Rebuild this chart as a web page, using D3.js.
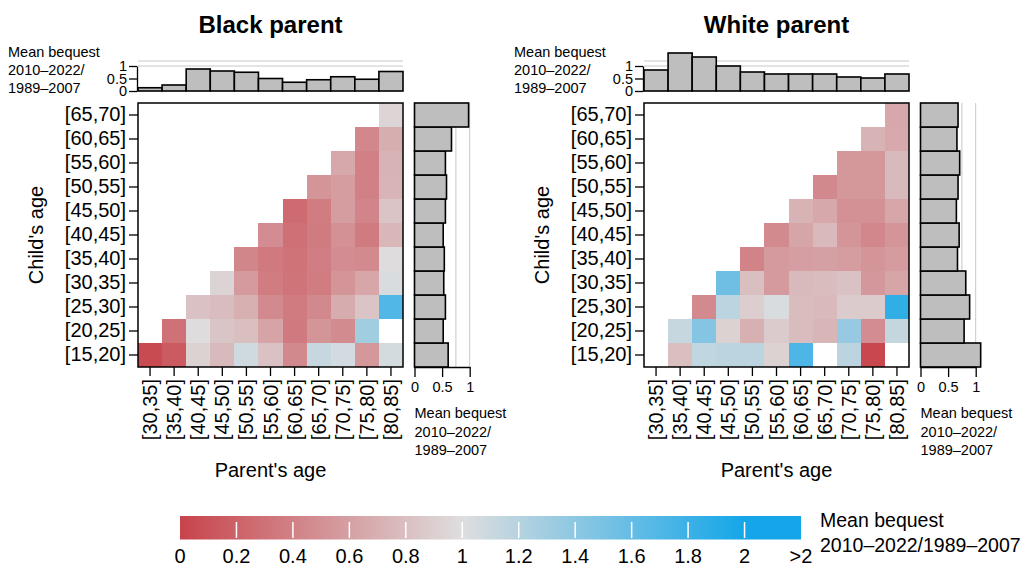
<!DOCTYPE html>
<html>
<head>
<meta charset="utf-8">
<script src="https://cdn.jsdelivr.net/npm/d3@7"></script>
<style>
  html, body { margin: 0; padding: 0; background: #fff; }
  svg { display: block; font-family: "Liberation Sans", Arial, Helvetica, sans-serif; }
</style>
</head>
<body>
<svg id="chart" width="1025" height="565"></svg>
<script>
// Age bins
const parentAgeBins = ["[30,35]","[35,40]","[40,45]","[45,50]","[50,55]","[55,60]","[60,65]","[65,70]","[70,75]","[75,80]","[80,85]"];
const childAgeBins  = ["[15,20]","[20,25]","[25,30]","[30,35]","[35,40]","[40,45]","[45,50]","[50,55]","[55,60]","[60,65]","[65,70]"];

// Ratio of mean bequest 2010–2022 / 1989–2007, rows = child age bin (youngest first), cols = parent age bin
const blackGrid = [
  [0.05, 0.15, 0.92, 0.77, 1.08, 0.82, 0.45, 1.12, 1.06, 0.54, 1.05],
  [null, 0.30, 0.99, 0.84, 0.80, 0.62, 0.35, 0.53, 0.47, 1.30, null],
  [null, null, 0.82, 0.78, 0.70, 0.46, 0.36, 0.45, 0.68, 0.83, 1.70],
  [null, null, null, 0.93, 0.56, 0.37, 0.32, 0.37, 0.53, 0.64, 1.03],
  [null, null, null, null, 0.43, 0.35, 0.31, 0.38, 0.48, 0.46, 0.99],
  [null, null, null, null, null, 0.48, 0.29, 0.36, 0.50, 0.36, 0.75],
  [null, null, null, null, null, null, 0.26, 0.37, 0.58, 0.42, 0.83],
  [null, null, null, null, null, null, null, 0.53, 0.58, 0.40, 0.73],
  [null, null, null, null, null, null, null, null, 0.65, 0.40, 0.72],
  [null, null, null, null, null, null, null, null, null, 0.44, 0.69],
  [null, null, null, null, null, null, null, null, null, null, 0.94]
];
const whiteGrid = [
  [null, 0.80, 1.15, 1.17, 1.17, 0.92, 1.72, null, 1.17, 0.03, null],
  [null, 1.12, 1.45, 0.92, 0.70, 0.88, 0.78, 0.74, 1.35, 0.48, 1.13],
  [null, null, 0.46, 1.18, 0.89, 1.03, 0.78, 0.76, 0.88, 0.88, 1.85],
  [null, null, null, 1.55, 0.80, 0.56, 0.77, 0.78, 0.82, 0.55, 0.63],
  [null, null, null, null, 0.41, 0.56, 0.59, 0.60, 0.58, 0.53, 0.57],
  [null, null, null, null, null, 0.46, 0.63, 0.76, 0.53, 0.44, 0.53],
  [null, null, null, null, null, null, 0.72, 0.65, 0.50, 0.50, 0.64],
  [null, null, null, null, null, null, null, 0.45, 0.54, 0.54, 0.77],
  [null, null, null, null, null, null, null, null, 0.54, 0.54, 0.77],
  [null, null, null, null, null, null, null, null, null, 0.72, 0.66],
  [null, null, null, null, null, null, null, null, null, null, 0.65]
];

// Marginal means by parent age (top) and by child age (side)
const blackParentMeans = [0.13, 0.24, 0.88, 0.80, 0.75, 0.50, 0.35, 0.45, 0.57, 0.47, 0.78];
const whiteParentMeans = [0.84, 1.52, 1.36, 1.00, 0.76, 0.68, 0.68, 0.68, 0.56, 0.52, 0.68];
const blackChildMeans  = [0.61, 0.52, 0.56, 0.53, 0.54, 0.52, 0.56, 0.58, 0.56, 0.67, 0.98];
const whiteChildMeans  = [1.09, 0.79, 0.89, 0.82, 0.67, 0.70, 0.65, 0.68, 0.71, 0.66, 0.68];

// Reference lines on the marginal bar charts
const topRefLines  = [1, 1.2];
const sideRefLines = [0.75, 1];
const marginTicks  = [0, 0.5, 1];

// Colour key
const legendTicks  = [0, 0.2, 0.4, 0.6, 0.8, 1, 1.2, 1.4, 1.6, 1.8, 2];
const legendLabels = ["0","0.2","0.4","0.6","0.8","1","1.2","1.4","1.6","1.8","2"];
const legendMax = 2.2;
const legendMaxLabel = ">2";
const axisNote = ["Mean bequest", "2010\u20132022/", "1989\u20132007"];
const legendTitle = ["Mean bequest", "2010\u20132022/1989\u20132007"];

const color = d3.scaleLinear()
  .domain([0, 1, 2])
  .range(["#c8434b", "#dedede", "#14a6e9"])
  .interpolate(d3.interpolateRgb)
  .clamp(true);

const svg = d3.select("#chart");

const panels = [
  { title: "Black parent", grid: blackGrid, top: blackParentMeans, side: blackChildMeans, x0: 138 },
  { title: "White parent", grid: whiteGrid, top: whiteParentMeans, side: whiteChildMeans, x0: 644 }
];

const heatW = 265, heatH = 264, heatY0 = 103;
const barFill = "#bebebe", refColor = "#c8c8c8";
const bigFont = 20, smallFont = 14.5;

panels.forEach(p => {
  const g = svg.append("g");
  const x = d3.scaleBand().domain(parentAgeBins).range([p.x0, p.x0 + heatW]);
  const y = d3.scaleBand().domain(childAgeBins).range([heatY0 + heatH, heatY0]);

  // Title
  g.append("text")
    .attr("x", p.x0 + heatW / 2).attr("y", 33)
    .attr("text-anchor", "middle")
    .attr("font-size", 24).attr("font-weight", "bold")
    .text(p.title);

  // Heatmap cells
  const cells = [];
  p.grid.forEach((row, ri) => row.forEach((v, ci) => {
    if (v !== null) cells.push({ child: childAgeBins[ri], parent: parentAgeBins[ci], v });
  }));
  g.append("g").selectAll("rect").data(cells).join("rect")
    .attr("x", d => x(d.parent))
    .attr("y", d => y(d.child))
    .attr("width", x.bandwidth() + 0.3)
    .attr("height", y.bandwidth() + 0.3)
    .attr("fill", d => color(d.v))
    .attr("shape-rendering", "crispEdges");

  g.append("rect")
    .attr("x", p.x0).attr("y", heatY0).attr("width", heatW).attr("height", heatH)
    .attr("fill", "none").attr("stroke", "#000").attr("stroke-width", 1.5);

  // Heatmap axes
  const yAxis = g.append("g")
    .attr("transform", `translate(${p.x0},0)`)
    .call(d3.axisLeft(y).tickSize(9).tickPadding(3));
  yAxis.select(".domain").remove();
  yAxis.selectAll("line").attr("stroke-width", 1.3);
  yAxis.selectAll("text").attr("font-size", bigFont).attr("fill", "#000")
    .attr("font-family", "Liberation Sans, Arial, sans-serif");

  const xAxis = g.append("g")
    .attr("transform", `translate(0,${heatY0 + heatH})`)
    .call(d3.axisBottom(x).tickSize(9).tickPadding(3));
  xAxis.select(".domain").remove();
  xAxis.selectAll("line").attr("stroke-width", 1.3);
  xAxis.selectAll("text")
    .attr("font-size", bigFont).attr("fill", "#000")
    .attr("font-family", "Liberation Sans, Arial, sans-serif")
    .attr("text-anchor", "end")
    .attr("dy", "0.35em")
    .attr("transform", "translate(0,12) rotate(-90)")
    .attr("x", 0).attr("y", 0);

  // Axis titles
  g.append("text")
    .attr("x", p.x0 + heatW / 2).attr("y", 477)
    .attr("text-anchor", "middle").attr("font-size", bigFont)
    .text("Parent's age");
  g.append("text")
    .attr("transform", `translate(${p.x0 - 95},${heatY0 + heatH / 2}) rotate(-90)`)
    .attr("text-anchor", "middle").attr("font-size", bigFont)
    .text("Child's age");

  // Top marginal: means by parent age
  const yTop = d3.scaleLinear().domain([0, 1]).range([91, 66]);
  g.append("g").selectAll("line").data(topRefLines).join("line")
    .attr("x1", p.x0).attr("x2", p.x0 + heatW)
    .attr("y1", d => yTop(d)).attr("y2", d => yTop(d))
    .attr("stroke", refColor).attr("stroke-width", 1);
  g.append("g").selectAll("rect").data(p.top.map((v, i) => ({ bin: parentAgeBins[i], v }))).join("rect")
    .attr("x", d => x(d.bin)).attr("width", x.bandwidth())
    .attr("y", d => yTop(d.v)).attr("height", d => yTop(0) - yTop(d.v))
    .attr("fill", barFill).attr("stroke", "#000").attr("stroke-width", 1.6);
  const topAxis = g.append("g")
    .attr("transform", `translate(${p.x0 - 1},0)`)
    .call(d3.axisLeft(yTop).tickValues(marginTicks).tickSize(8).tickSizeOuter(0).tickPadding(2)
      .tickFormat(d => String(d)));
  topAxis.select(".domain").attr("stroke-width", 1.3);
  topAxis.selectAll("line").attr("stroke-width", 1.3);
  topAxis.selectAll("text").attr("font-size", smallFont).attr("fill", "#000")
    .attr("font-family", "Liberation Sans, Arial, sans-serif");

  g.append("g").selectAll("text").data(axisNote).join("text")
    .attr("x", p.x0 - 130).attr("y", (d, i) => 57 + i * 18)
    .attr("font-size", smallFont)
    .text(d => d);

  // Side marginal: means by child age
  const sx0 = p.x0 + heatW + 11.5;
  const xSide = d3.scaleLinear().domain([0, 1]).range([sx0, sx0 + 55.2]);
  g.append("g").selectAll("line").data(sideRefLines).join("line")
    .attr("x1", d => xSide(d)).attr("x2", d => xSide(d))
    .attr("y1", heatY0).attr("y2", heatY0 + heatH)
    .attr("stroke", refColor).attr("stroke-width", 1);
  g.append("g").selectAll("rect").data(p.side.map((v, i) => ({ bin: childAgeBins[i], v }))).join("rect")
    .attr("y", d => y(d.bin)).attr("height", y.bandwidth())
    .attr("x", xSide(0)).attr("width", d => xSide(d.v) - xSide(0))
    .attr("fill", barFill).attr("stroke", "#000").attr("stroke-width", 1.6);
  const sideAxis = g.append("g")
    .attr("transform", `translate(0,${heatY0 + heatH})`)
    .call(d3.axisBottom(xSide).tickValues(marginTicks).tickSize(10).tickSizeOuter(0).tickPadding(5)
      .tickFormat(d => String(d)));
  sideAxis.select(".domain").attr("stroke-width", 1.3);
  sideAxis.selectAll("line").attr("stroke-width", 1.3);
  sideAxis.selectAll("text").attr("font-size", smallFont).attr("fill", "#000")
    .attr("font-family", "Liberation Sans, Arial, sans-serif");

  g.append("g").selectAll("text").data(axisNote).join("text")
    .attr("x", sx0).attr("y", (d, i) => 418 + i * 18.5)
    .attr("font-size", smallFont)
    .text(d => d);
});

// Colour key
const xLeg = d3.scaleLinear().domain([0, legendMax]).range([180, 801]);
const defs = svg.append("defs");
const grad = defs.append("linearGradient").attr("id", "keyGradient")
  .attr("x1", "0%").attr("x2", "100%").attr("y1", "0%").attr("y2", "0%");
d3.range(0, 45).forEach(i => {
  const v = legendMax * i / 44;
  grad.append("stop").attr("offset", (v / legendMax * 100) + "%").attr("stop-color", color(v));
});
const key = svg.append("g");
key.append("rect")
  .attr("x", xLeg(0)).attr("y", 516)
  .attr("width", xLeg(legendMax) - xLeg(0)).attr("height", 23.5)
  .attr("fill", "url(#keyGradient)");
key.selectAll("line").data(legendTicks.slice(1)).join("line")
  .attr("x1", d => xLeg(d)).attr("x2", d => xLeg(d))
  .attr("y1", 522).attr("y2", 538)
  .attr("stroke", "#fff").attr("stroke-width", 1.5);
key.selectAll("text.tick").data(legendTicks).join("text")
  .attr("class", "tick")
  .attr("x", d => xLeg(d)).attr("y", 563)
  .attr("text-anchor", "middle").attr("font-size", bigFont)
  .text((d, i) => legendLabels[i]);
key.append("text")
  .attr("x", xLeg(legendMax)).attr("y", 563)
  .attr("text-anchor", "middle").attr("font-size", bigFont)
  .text(legendMaxLabel);
key.selectAll("text.title").data(legendTitle).join("text")
  .attr("class", "title")
  .attr("x", 820).attr("y", (d, i) => 527 + i * 25)
  .attr("font-size", 19.5)
  .text(d => d);
</script>
</body>
</html>
